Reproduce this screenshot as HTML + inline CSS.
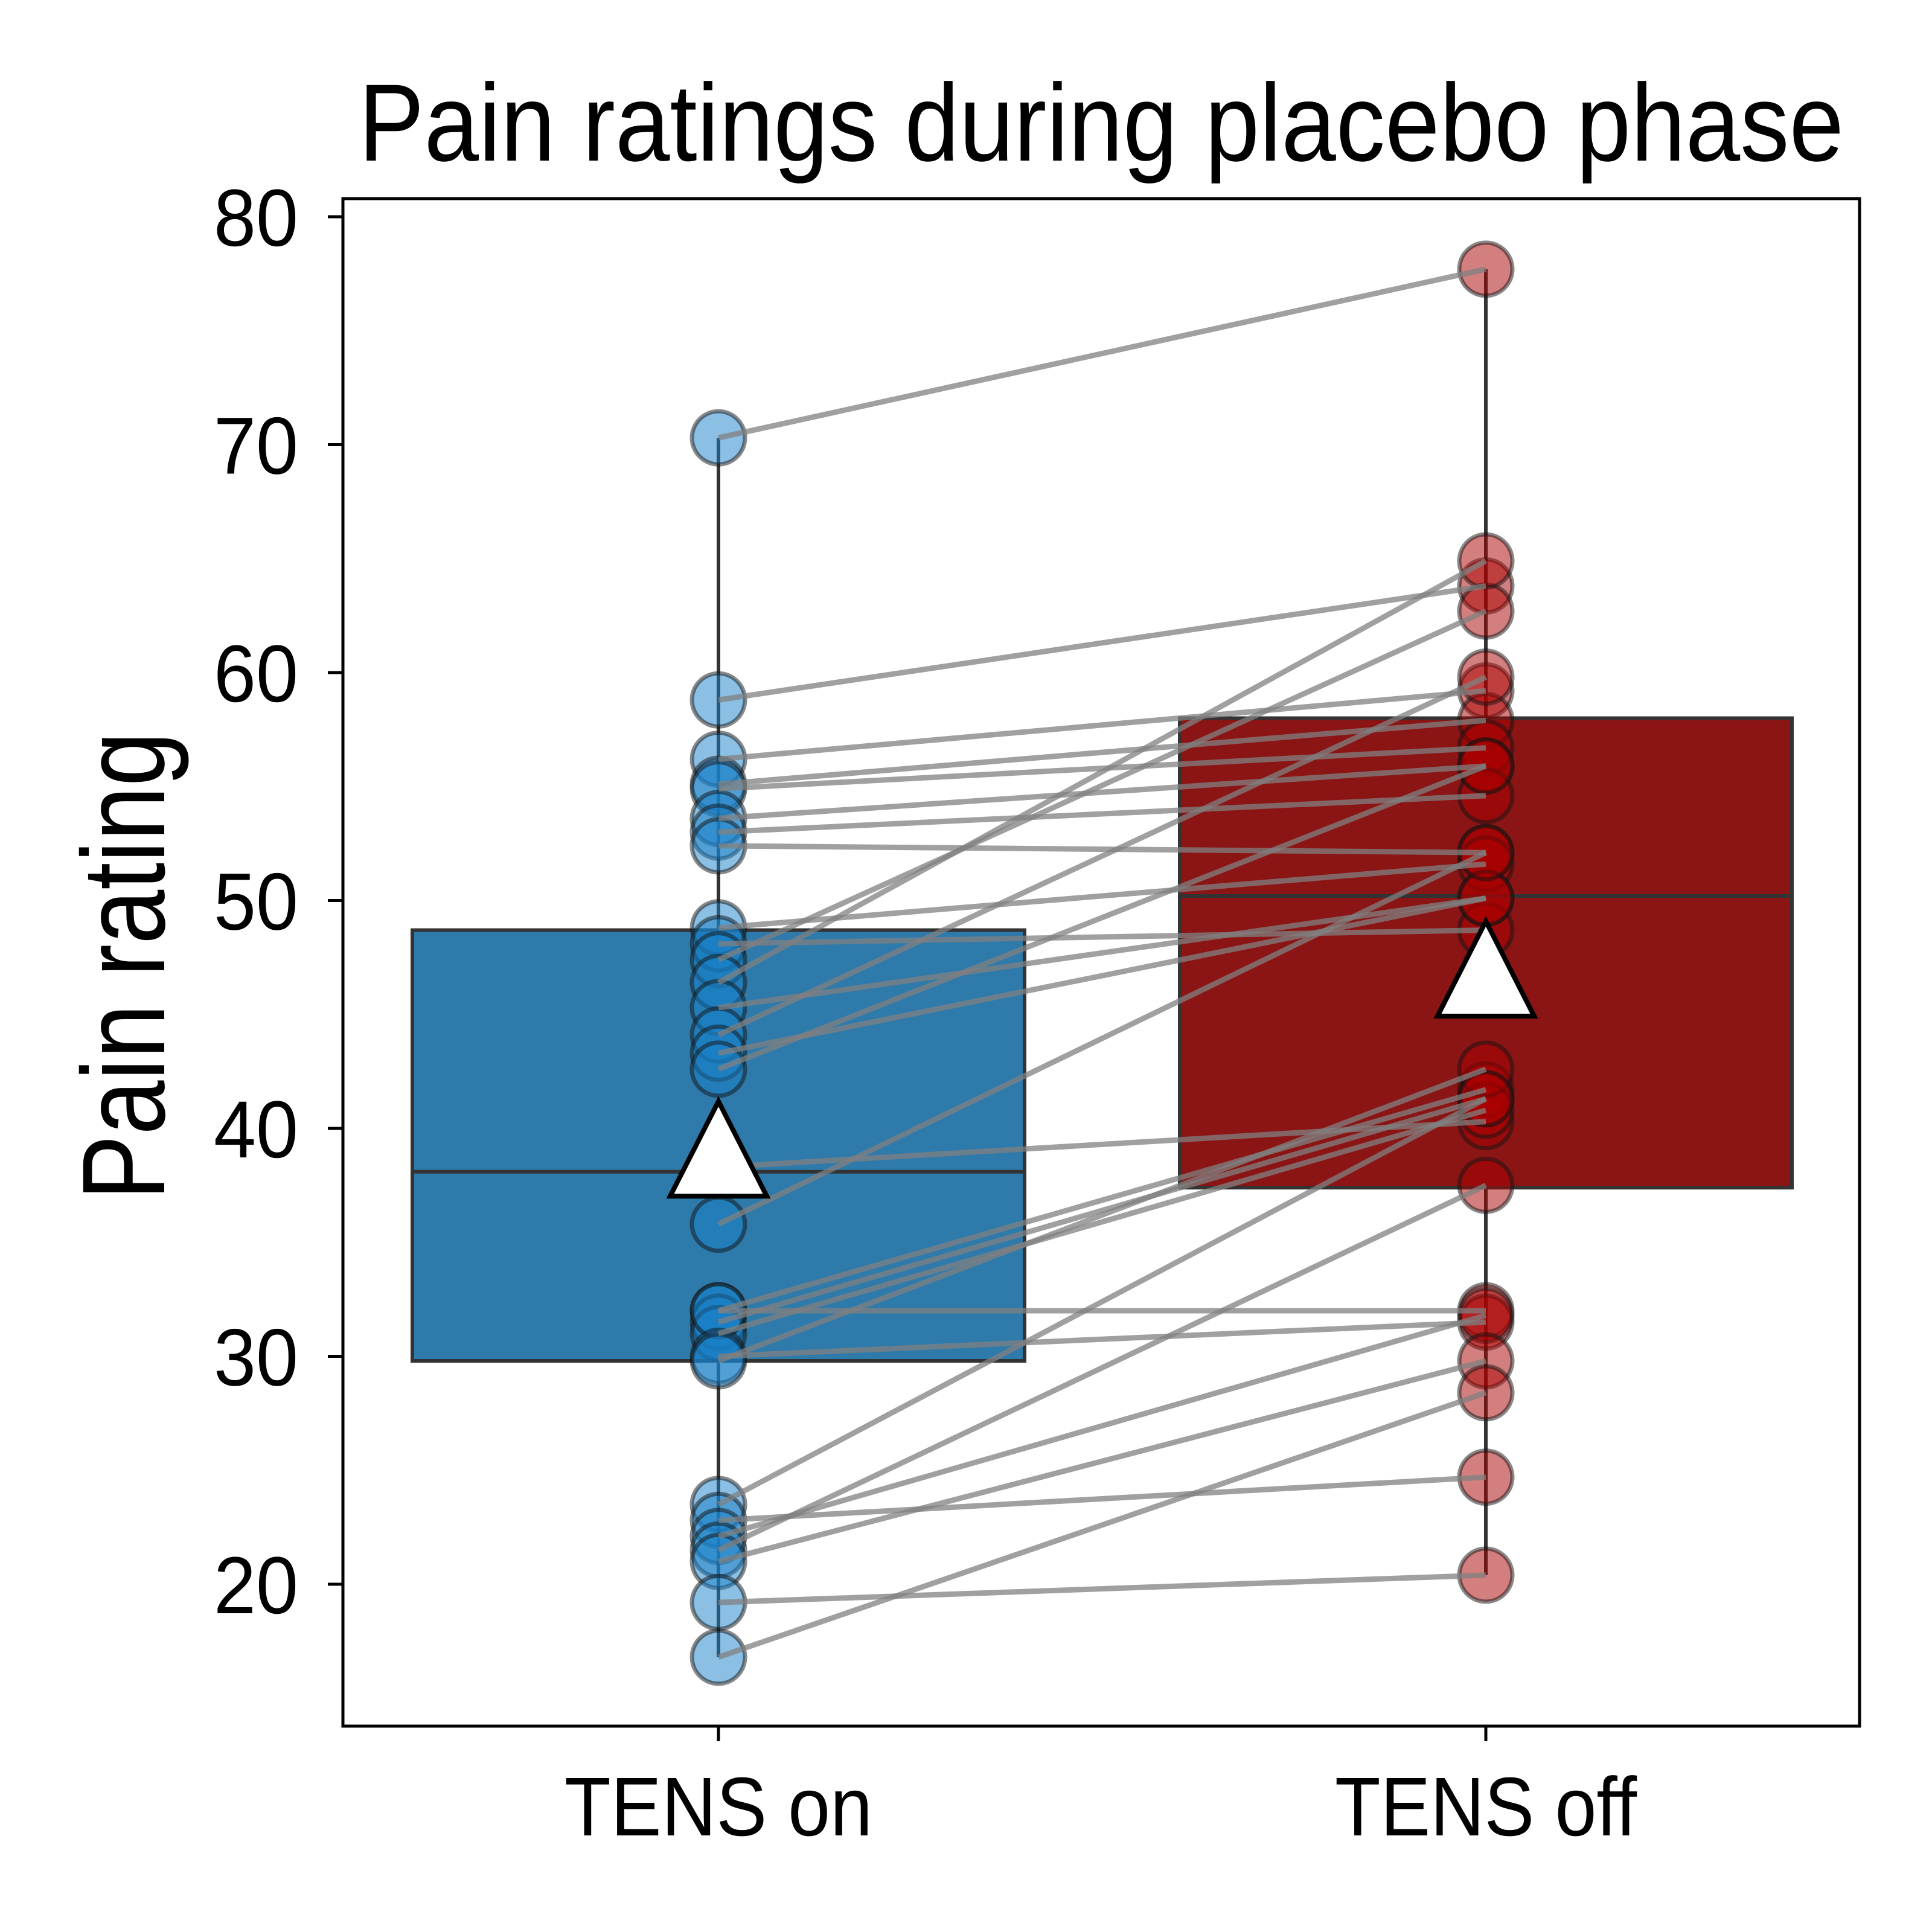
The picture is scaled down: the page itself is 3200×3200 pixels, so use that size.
<!DOCTYPE html>
<html><head><meta charset="utf-8"><style>html,body{margin:0;padding:0;background:#fff}svg{display:block}</style></head>
<body>
<svg id="chart" width="3200" height="3200" viewBox="0 0 3200 3200" xmlns="http://www.w3.org/2000/svg" font-family="'Liberation Sans', sans-serif">
<rect width="3200" height="3200" fill="#fff"/>
<text x="1824" y="266" font-size="182" text-anchor="middle" textLength="2460" lengthAdjust="spacingAndGlyphs">Pain ratings during placebo phase</text>
<text x="0" y="0" font-size="195" text-anchor="middle" transform="translate(272,1600) rotate(-90)" textLength="776" lengthAdjust="spacingAndGlyphs">Pain rating</text>
<g id="plot"></g>
<rect x="568" y="329" width="2512" height="2530" fill="none" stroke="#000" stroke-width="5"/>
</svg>
<script>
const categories = ["TENS on", "TENS off"];
const yTicks = [20, 30, 40, 50, 60, 70, 80];
const tensOn  = [70.3,58.8,56.2,55.1,54.9,53.6,53.0,52.4,48.8,48.1,47.4,46.4,45.3,44.1,43.3,42.6,38.3,35.8,32.0,31.5,31.0,32.0,30.0,29.8,23.5,22.8,22.1,21.5,21.0,19.2,16.8];
const tensOff = [77.7,63.8,59.2,57.9,56.7,55.9,54.6,52.1,51.6,48.7,62.7,64.9,50.1,59.8,50.1,55.9,40.3,52.1,41.7,41.3,40.8,32.0,31.5,42.6,41.3,24.7,31.8,37.5,29.8,20.4,28.4];
const q1 = [29.8, 37.4];
const q3 = [48.7, 58.0];
const medians = [38.1, 50.2];
const whiskLo = [16.8, 20.4];
const whiskHi = [70.3, 77.7];
const means = [39.2, 47.1];

const NS = "http://www.w3.org/2000/svg";
const g = document.getElementById('plot');
const svg = document.getElementById('chart');
function y(v){ return 359 + (80 - v) * 37.75; }
function x(i){ return [1190, 2461][i]; }
const halfW = 507;
function el(tag, attrs, parent){ const e = document.createElementNS(NS, tag); for (const k in attrs) e.setAttribute(k, attrs[k]); (parent||g).appendChild(e); return e; }

yTicks.forEach(t => {
  const l = el('line', {x1:543, x2:568, y1:y(t), y2:y(t), stroke:'#000','stroke-width':5}, svg);
  
  
  const tx = el('text', {x:494, y:y(t)+48, 'font-size':134, 'text-anchor':'end', textLength:140, lengthAdjust:'spacingAndGlyphs'}, svg);
  tx.textContent = t;
  
  
});
const xLabelW = [510, 500];
categories.forEach((c, i) => {
  const l = el('line', {x1:x(i), x2:x(i), y1:2859, y2:2884, stroke:'#000','stroke-width':5}, svg);
  
  
  const tx = el('text', {x:x(i), y:3040, 'font-size':138, 'text-anchor':'middle', textLength:xLabelW[i], lengthAdjust:'spacingAndGlyphs'}, svg);
  tx.textContent = c;
  
  
});
const boxFill = ['#2e7aab', '#8b1414'];
categories.forEach((c, i) => {
  const b = el('rect', {x:x(i)-halfW, y:y(q3[i]), width:2*halfW, height:y(q1[i])-y(q3[i]), fill:boxFill[i], stroke:'#333','stroke-width':6});
  
  
  const m = el('line', {x1:x(i)-halfW, x2:x(i)+halfW, y1:y(medians[i]), y2:y(medians[i]), stroke:'#333','stroke-width':6});
  
  
  const w1 = el('line', {x1:x(i), x2:x(i), y1:y(q3[i]), y2:y(whiskHi[i]), stroke:'#333','stroke-width':6});
  
  
  const w2 = el('line', {x1:x(i), x2:x(i), y1:y(q1[i]), y2:y(whiskLo[i]), stroke:'#333','stroke-width':6});
  
  
});
tensOn.forEach((v, k) => {
  const p = el('circle', {cx:x(0), cy:y(v), r:44, fill:'rgba(24,128,200,0.5)', stroke:'rgba(20,20,20,0.5)', 'stroke-width':7});
  
  
});
tensOff.forEach((v, k) => {
  const p = el('circle', {cx:x(1), cy:y(v), r:44, fill:'rgba(170,0,0,0.5)', stroke:'rgba(20,20,20,0.5)', 'stroke-width':7});
  
  
});
tensOn.forEach((v, k) => {
  const l = el('line', {x1:x(0), y1:y(v), x2:x(1), y2:y(tensOff[k]), stroke:'rgba(128,128,128,0.75)', 'stroke-width':9});
  
  
});
means.forEach((v, i) => {
  const cx = x(i), cy = y(v);
  const t = el('polygon', {points:`${cx},${cy-75} ${cx-80},${cy+82} ${cx+80},${cy+82}`, fill:'#fff', stroke:'#000', 'stroke-width':8});
  
  
});
</script>
</body></html>
